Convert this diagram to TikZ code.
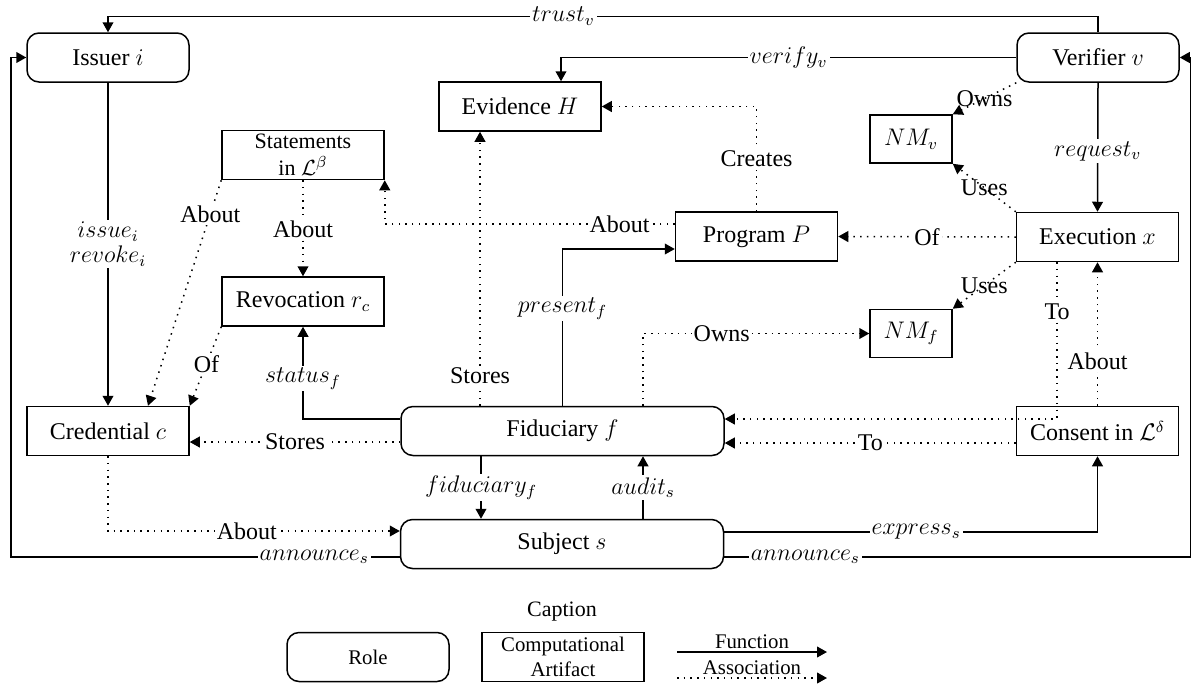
\documentclass[tikz,border=0pt]{standalone}
\usepackage{fontspec}
\setmainfont{Liberation Serif}
\usetikzlibrary{arrows.meta}
\begin{document}
\begin{tikzpicture}[x=0.5pt,y=-0.5pt,
  every node/.style={font=\fontsize{12}{14}\selectfont},
  base/.style={draw, line width=0.75pt, inner sep=0pt, align=center},
  role/.style={base, rounded corners=6pt, minimum width=81pt, minimum height=24.5pt},
  artifact/.style={base, minimum width=81pt, minimum height=24.5pt},
  smallbox/.style={base, minimum width=41pt, minimum height=24pt},
  widerole/.style={role, minimum width=161.5pt},
  conn/.style={line width=0.75pt, -{Triangle[length=5pt,width=5.4pt]}},
  func/.style={conn},
  assoc/.style={conn, dash pattern=on 0.75pt off 2.6pt},
  lbl/.style={fill=white, inner sep=1pt},
  plainlbl/.style={inner sep=1pt},
  legendfont/.style={font=\fontsize{10.4}{12.5}\selectfont},
]
\useasboundingbox (0,0) rectangle (1192,686);

% roles and artifacts
\node[role] (iss) at (108,57.5) {Issuer $i$};
\node[role] (ver) at (1098,57.5) {Verifier $v$};
\node[artifact] (evi) at (520,106.5) {Evidence $H$};
\node[artifact, font=\fontsize{11}{13.3}\selectfont] (stm) at (303,155) {Statements\\in $\mathcal{L}^{\beta}$};
\node[smallbox] (nmv) at (911,139) {$NM_v$};
\node[artifact] (prog) at (756.5,236.5) {Program $P$};
\node[artifact] (exe) at (1097.5,237) {Execution $x$};
\node[artifact] (rev) at (303,301.5) {Revocation $r_c$};
\node[smallbox] (nmf) at (911,333.5) {$NM_f$};
\node[artifact] (cred) at (108,431) {Credential $c$};
\node[widerole] (fid) at (562.5,431) {Fiduciary $f$};
\node[artifact] (cons) at (1097.5,431) {Consent in $\mathcal{L}^{\delta}$};
\node[widerole] (subj) at (562,544) {Subject $s$};

% helper points on the fiduciary's lower edge
\coordinate (fa) at ([xshift=-40.75pt]fid.south);
\coordinate (fb) at ([xshift=40.25pt]fid.south);

% verifier
\draw[func] (ver.north) -- ++(0,-16) -| node[lbl,pos=0.27]{$trust_v$} (iss.north);
\draw[func] (ver.west) -| node[lbl,pos=0.25]{$verify_v$} ([xshift=20.5pt]evi.north);
\draw[func] (ver.south) -- node[lbl,pos=0.53]{$request_v$} (exe.north);
\draw[assoc] (ver.south west) -- node[plainlbl]{Owns} (nmv.north east);

% execution
\draw[assoc] (exe.north west) -- node[plainlbl]{Uses} (nmv.south east);
\draw[assoc] (exe.south west) -- node[plainlbl]{Uses} (nmf.north east);
\draw[assoc] (exe.west) -- node[lbl]{Of} (prog.east);
\draw[assoc] ([xshift=-20.25pt]exe.south) |- node[lbl,pos=0.158]{To} ([yshift=6pt]fid.east);

% program
\draw[assoc] (prog.north) |- node[lbl,pos=0.25]{Creates} (evi.east);
\draw[assoc] ([yshift=6.25pt]prog.west) -| node[lbl,pos=0.095]{About} (stm.south east);

% fiduciary
\draw[assoc] ([xshift=-41.25pt]fid.north) -- node[lbl,pos=0.11]{Stores} ([xshift=-20pt]evi.south);
\draw[func] (fid.north) |- node[lbl,pos=0.31]{$present_f$} ([yshift=-6.25pt]prog.west);
\draw[assoc] ([xshift=40.25pt]fid.north) |- node[lbl,pos=0.674]{Owns} (nmf.west);
\draw[func] ([yshift=6pt]fid.west) -| node[lbl,pos=0.72]{$status_f$} (rev.south);
\draw[assoc] ([yshift=-5.5pt]fid.west) -- node[lbl]{Stores} ([yshift=-5.5pt]cred.east);
\draw[func] (fa) -- node[lbl]{$fiduciary_f$} (fa |- subj.north);

% consent
\draw[assoc] ([yshift=-6pt]cons.west) -- node[lbl]{To} ([yshift=-6pt]fid.east);
\draw[assoc] (cons.north) -- node[lbl,pos=0.31]{About} (exe.south);

% issuer, statements, revocation, credential
\draw[func] (iss.south) -- node[lbl,font=\fontsize{12}{12.5}\selectfont,align=center]{$issue_i$\\$revoke_i$} (cred.north);
\draw[assoc] (stm.south) -- node[lbl,pos=0.51]{About} (rev.north);
\draw[assoc] (stm.south west) -- node[lbl,pos=0.15]{About} ([xshift=20pt]cred.north);
\draw[assoc] (rev.south west) -- node[lbl,pos=0.47]{Of} (cred.north east);
\draw[assoc] (cred.south) |- node[lbl,pos=0.738]{About} ([yshift=6.5pt]subj.west);

% subject
\draw[func] (fb |- subj.north) -- node[lbl]{$audit_s$} (fb);
\draw[func] ([yshift=6pt]subj.east) -| node[lbl,pos=0.257]{$express_s$} (cons.south);
\draw[func] ([yshift=-6.5pt]subj.west) -- node[lbl,pos=0.22]{$announce_s$} ++(-389,0) |- (iss.west);
\draw[func] ([yshift=-6.5pt]subj.east) -- node[lbl,pos=0.174]{$announce_s$} ++(466,0) |- (ver.east);

% legend
\node[font=\fontsize{11}{13}\selectfont] (cap) at (562,612) {Caption};
\node[role, legendfont] (lrole) at (368,657) {Role};
\node[artifact, legendfont] (lart) at (563,657) {Computational\\Artifact};
\coordinate (fs) at (677,652);
\coordinate (fe) at (827,652);
\coordinate (as) at (677,678);
\coordinate (ae) at (827,678);
\draw[func] (fs) -- node[above, inner sep=1.5pt, legendfont]{Function} (fe);
\draw[assoc] (as) -- node[above, inner sep=1.5pt, legendfont]{Association} (ae);
\end{tikzpicture}
\end{document}
